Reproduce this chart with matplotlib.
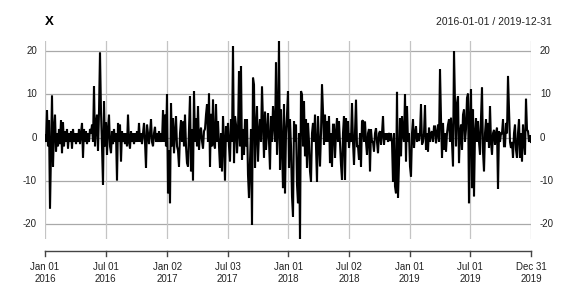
import matplotlib
matplotlib.use("Agg")
import matplotlib.pyplot as plt
import matplotlib.transforms as mtransforms
import pandas as pd
import numpy as np

plt.rcParams['font.family'] = ['Liberation Sans', 'DejaVu Sans']

title = "X"
date_range_label = "2016-01-01 / 2019-12-31"
start_date = "2016-01-01"
end_date = "2019-12-31"

# values (approx. one per ~3 days)
values = [
    0.5, -1, 6.3, -2, 4, -16.5, -3, 9.8, -6.7, 2,
    5.3, -3.2, 1, -2, 2, -1.5, 4, -3.6, 3.5, -2,
    1.5, -1, 2, -2.5, 1, -1, 1.5, -2.5, 2, -1,
    1, -1.5, 1, -1, 2, -1.5, 1, 3.4, -4.6, 2,
    -1, 1.5, -1.5, 1, -1, 2, 1, 3, -1, 11.9,
    -2, 3, 5.3, -3, 6, 19.7, 6, -2, -10.9, 8.4,
    -2, 3.5, -4, 2, 5.3, -2, -3.6, 1.5, -1.5, 2,
    -1, 1, -9.9, 3.4, -1, 3, -5.5, 1.5, -1, 1,
    -1.5, 1, -2, 5.3, -1, -2.5, 1.5, -1, 1, -1.5,
    1, -1, 1.5, -1, 3.4, -1, 1, -1.5, 1, 3.4,
    -1, -7, 3, 1, -1.5, 1, 4.3, -1, -2, 1,
    2.5, -1, 1, -1, 1.5, -1, 1, -1, 6.3, -1,
    5.3, -2, 10, -12.9, -3, -15.2, 8, -2, 4.5, -3.6,
    1, 5, -2, -3, -6.7, 1, 4, -1, 3.7, -2,
    5.3, -2, -5.9, -6.7, 2, 9.6, -7.8, 2, -9.9, 10.8,
    -1, 4.5, -2, 7.3, -2.8, 1, 2.3, -0.8, -2.5, 1.5,
    2, 5.3, 7.7, -1, 10.2, -6.7, 5.5, -2, 8.8, -1.5,
    -2.5, 7.7, -1, 3.8, -2, -7, 1, -7.8, 5, -1,
    -9.9, 2.6, -1, 3.4, -2, -5.5, 4.3, -1, 21.2, -5.9,
    5, 3, -3.6, 1, 15.4, -2, 16.6, -5.1, 2, -4,
    4.2, -2, 4.2, -8.6, -14, -5.5, 2, -20.2, 13.9, 12.3,
    -7, 2, 7.3, -5.5, 1, 4.3, -1, 11.9, 3.7, -4.7,
    6, -2.8, 1, 5.7, -1, -7.4, 5, -1, 7.3, 3.4,
    -1, 17.4, -3.9, 2, 22.4, -7.4, 6.5, -2, -11.7, 7.7,
    -12.9, 1, 5.3, 10.8, -7, 4.2, -2, -13.6, -18.3, 3.8,
    -1, 3, -10.9, -15.2, 1, -23.5, 10.8, 10, -2, 8.4,
    -4.3, 4.2, -7, 3.4, -1, -7.8, -10.2, 1, 3.4, -1,
    5.3, -2, -10.2, 5, -1, -6.7, 1, 12.3, 6, -1.6,
    5.3, -1, 3.8, -1, 5, -5.9, 1, -6.7, 3, 3,
    -4.7, 1, 4.5, -1, 3.8, -1, -6.3, -9.8, 1, 5,
    -9.8, 4.5, -1, 3.8, -2.4, 1, -1, 8, -1, -6.3,
    1, 8.8, -2, -2, -5.1, 1, -6.7, 3.8, 4, -1,
    3.7, -1, -4, 1, 2, -7.8, 1.9, -1, -1, -3.2,
    1, 2.2, -1, -3.6, 1, 1.5, -1.6, 1, 5, -1.6,
    1, -0.5, 1, -1, 1.1, -0.8, 1, -1, -10.2, 1,
    -11.3, -12.9, 10.6, -13.9, -5.9, 4.5, -4.3, 5, 1, -1,
    10, -5.5, 7.3, -1, 1, -6.7, -9, 1, 4.2, -2.4,
    1, 2.6, -1, 1, -0.8, 1, 7.7, -1.6, -1, 1,
    7.5, -2.8, 1, -3.2, 2.3, -1, 1, 1.5, -1, 2.6,
    2.6, -1.3, 1, 3, -1, 15.8, 4.5, -4.7, 3.4, -2.8,
    1, -3.2, 1, 3, 4.2, -1, 4.6, -1, -6.7, 20,
    8, -2, 8, 9.6, -5.9, 1, 3, -2.8, 5.3, 6.5,
    -0.9, 2, 9.2, 10.2, -15.2, 4, 11.2, -11.7, 6.5, -13.6,
    1, 4.5, -1, 3.8, -1, -3.9, 4.5, 11.6, -3.2, -7.8,
    1, 4.2, -1, 3.4, -2.4, 7.3, -1, -3.9, 1, 1.8,
    -1.6, 1, 2.3, -11.9, 1.5, -1, 1, 1, 4.2, -2,
    -2, 3.4, 1, 14.3, 6.5, -1, -2.4, -1, -4.7, 1,
    3, -2.8, -4.7, 1, 4.2, -4.7, 1, -5.5, 3, -1,
    -3.9, 9, 1.8, 1.5, -1, 0.5, -1,
]

ytick_values = [-20, -10, 0, 10, 20]
xtick_dates = ["2016-01-01", "2016-07-01", "2017-01-02", "2017-07-03", "2018-01-01",
               "2018-07-02", "2019-01-01", "2019-07-01", "2019-12-31"]
xtick_labels = ["Jan 01\n2016", "Jul 01\n2016", "Jan 02\n2017", "Jul 03\n2017", "Jan 01\n2018",
                "Jul 02\n2018", "Jan 01\n2019", "Jul 01\n2019", "Dec 31\n2019"]

dates = pd.date_range(start_date, end_date, periods=len(values))
vals = np.array(values, dtype=float)
tick_dates = pd.to_datetime(xtick_dates)

fig = plt.figure(figsize=(5.76, 2.88), dpi=100)
ax = fig.add_axes([45/576, 1 - 239/288, 486/576, 198/288])

# grid
for yv in ytick_values:
    ax.axhline(yv, color='#a9a9a9', lw=0.9, zorder=1)
for td in tick_dates:
    ax.axvline(td, color='#c4c4c4', lw=0.9, zorder=1)

ax.plot(dates, vals, color='black', lw=1.5, zorder=3, solid_joinstyle='miter')

ax.set_xlim(pd.Timestamp(start_date), pd.Timestamp(end_date))
ax.set_ylim(vals.min(), vals.max())
for s in ax.spines.values():
    s.set_visible(False)
ax.set_xticks([])
ax.set_yticks([])

# y labels on both sides
tr_y = mtransforms.blended_transform_factory(ax.transAxes, ax.transData)
for yv in ytick_values:
    ax.text(-8/486, yv, str(yv), transform=tr_y, ha='right', va='center',
            fontsize=7, color='#222222')
    ax.text(1 + 9/486, yv, str(yv), transform=tr_y, ha='left', va='center',
            fontsize=7, color='#222222')

# bottom date axis
tr_x = mtransforms.blended_transform_factory(ax.transData, ax.transAxes)
y_axis = -(251 - 239) / 198
y_tick = -(256 - 239) / 198
ax.plot([tick_dates[0], tick_dates[-1]], [y_axis, y_axis], transform=tr_x,
        color='#444444', lw=1.0, clip_on=False)
for td, lab in zip(tick_dates, xtick_labels):
    ax.plot([td, td], [y_axis, y_tick], transform=tr_x, color='#444444', lw=1.0,
            clip_on=False)
    ax.text(td, -(262 - 239) / 198, lab, transform=tr_x, ha='center', va='top',
            fontsize=7, color='#222222', linespacing=1.25)

# title and date range
fig.text(45/576, 1 - 22/288, title, ha='left', va='center', fontsize=9.5,
         fontweight='bold', color='black')
fig.text(552/576, 1 - 22/288, date_range_label, ha='right', va='center',
         fontsize=7.5, color='#222222')

fig.savefig("out.png", dpi=100)
